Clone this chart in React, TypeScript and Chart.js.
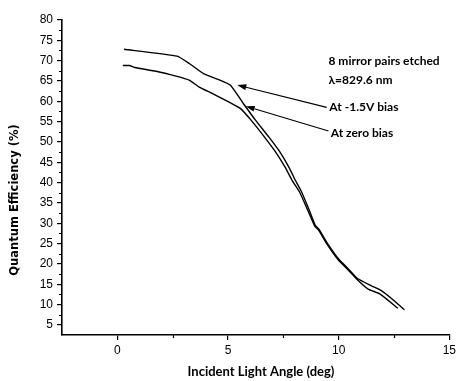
import React, { useEffect, useRef } from 'react';
import { Chart, registerables } from 'chart.js';

Chart.register(...registerables);

// ---- Data ----
const angleBias = [0.3, 2.7, 3.25, 3.9, 4.45, 5.1, 5.7, 6.25, 6.85, 7.3, 7.75, 8.05, 8.3, 8.65, 8.95, 9.1, 9.5, 10.0, 10.45, 10.85, 11.48, 11.93, 12.4, 12.97];
const qeBias = [72.8, 71.1, 69.3, 66.8, 65.6, 64.0, 59.4, 55.3, 51.2, 47.9, 43.8, 40.5, 38.0, 33.5, 29.4, 28.6, 25.0, 21.2, 18.7, 16.4, 14.6, 13.4, 11.4, 8.7];

const angleZero = [0.25, 0.55, 0.8, 1.75, 2.65, 3.25, 3.7, 4.3, 5.05, 5.57, 6.05, 6.65, 7.1, 7.58, 7.9, 8.25, 8.62, 8.93, 9.08, 9.48, 9.98, 10.43, 10.81, 11.33, 11.86, 12.67];
const qeZero = [68.8, 68.8, 68.3, 67.4, 66.2, 65.2, 63.5, 61.9, 59.8, 58.2, 55.3, 51.2, 47.9, 43.8, 40.5, 37.5, 33.0, 29.2, 28.4, 24.8, 21.0, 18.5, 16.3, 13.8, 12.6, 9.1];

const xTicks = [0, 5, 10, 15];
const xMinorTicks = [2.5, 7.5, 12.5];
const yTicks = [5, 10, 15, 20, 25, 30, 35, 40, 45, 50, 55, 60, 65, 70, 75, 80];
const yMinorTicks = [7.5, 12.5, 17.5, 22.5, 27.5, 32.5, 37.5, 42.5, 47.5, 52.5, 57.5, 62.5, 67.5, 72.5, 77.5];

const xTitle = 'Incident Light Angle (deg)';
const yTitle = 'Quantum Efficiency (%)';

// annotation texts: [text, x, y] in data units
const noteTexts: [string, number, number][] = [
  ['8 mirror pairs etched', 9.54, 69.9],
  ['\u03BB=829.6 nm', 9.54, 65.2],
  ['At -1.5V bias', 9.58, 58.5],
  ['At zero bias', 9.64, 52.2],
];
// arrows: [tailX, tailY, headX, headY] in data units
const noteArrows: [number, number, number, number][] = [
  [9.46, 58.5, 5.42, 64.0],
  [9.54, 52.7, 5.8, 58.8],
];

const toPoints = (xs: number[], ys: number[]) => xs.map((x, i) => ({ x, y: ys[i] }));

const extrasPlugin = {
  id: 'extras',
  afterDraw(chart: any) {
    const ctx = chart.ctx as CanvasRenderingContext2D;
    const xs = chart.scales.x;
    const ys = chart.scales.y;
    const area = chart.chartArea;
    ctx.save();
    ctx.strokeStyle = '#000';
    ctx.lineWidth = 1.2;
    // minor ticks
    ctx.beginPath();
    for (const v of yMinorTicks) {
      const py = Math.round(ys.getPixelForValue(v)) + 0.5;
      ctx.moveTo(area.left, py);
      ctx.lineTo(area.left - 3, py);
    }
    for (const v of xMinorTicks) {
      const px = Math.round(xs.getPixelForValue(v)) + 0.5;
      ctx.moveTo(px, area.bottom);
      ctx.lineTo(px, area.bottom + 3);
    }
    ctx.stroke();

    // axis titles
    ctx.fillStyle = '#000';
    ctx.font = 'bold 13px Lato';
    ctx.textAlign = 'center';
    ctx.textBaseline = 'middle';
    ctx.fillText(xTitle, 261, 372);
    ctx.save();
    ctx.translate(15, 200);
    ctx.rotate(-Math.PI / 2);
    ctx.font = 'bold 11.5px "DejaVu Sans"';
    ctx.fillText(yTitle, 0, 0);
    ctx.restore();

    // annotation texts
    ctx.font = 'bold 12px Lato';
    ctx.textAlign = 'left';
    ctx.textBaseline = 'middle';
    for (const [t, x, y] of noteTexts) {
      ctx.fillText(t, xs.getPixelForValue(x), ys.getPixelForValue(y));
    }

    // arrows
    ctx.lineWidth = 1.2;
    for (const [x0, y0, x1, y1] of noteArrows) {
      const ax = xs.getPixelForValue(x0);
      const ay = ys.getPixelForValue(y0);
      const bx = xs.getPixelForValue(x1);
      const by = ys.getPixelForValue(y1);
      const ang = Math.atan2(by - ay, bx - ax);
      const len = 9;
      const half = 3;
      const cx = bx - len * Math.cos(ang);
      const cy = by - len * Math.sin(ang);
      ctx.beginPath();
      ctx.moveTo(ax, ay);
      ctx.lineTo(cx, cy);
      ctx.stroke();
      ctx.beginPath();
      ctx.moveTo(bx, by);
      ctx.lineTo(cx + half * Math.sin(ang), cy - half * Math.cos(ang));
      ctx.lineTo(cx - half * Math.sin(ang), cy + half * Math.cos(ang));
      ctx.closePath();
      ctx.fill();
    }
    ctx.restore();
  },
};

export default function App() {
  const ref = useRef<HTMLCanvasElement | null>(null);
  useEffect(() => {
    if (!ref.current) return;
    const chart = new Chart(ref.current, {
      type: 'scatter',
      data: {
        datasets: [
          {
            label: 'At -1.5V bias',
            data: toPoints(angleBias, qeBias),
            showLine: true,
            borderColor: '#000',
            backgroundColor: '#000',
            borderWidth: 1.4,
            pointRadius: 0,
            tension: 0.15,
          },
          {
            label: 'At zero bias',
            data: toPoints(angleZero, qeZero),
            showLine: true,
            borderColor: '#000',
            backgroundColor: '#000',
            borderWidth: 1.4,
            pointRadius: 0,
            tension: 0.15,
          },
        ],
      },
      options: {
        animation: false,
        responsive: true,
        maintainAspectRatio: false,
        layout: { padding: { left: 0, right: 7, top: 20, bottom: 0 } },
        plugins: { legend: { display: false }, tooltip: { enabled: false } },
        scales: {
          x: {
            type: 'linear',
            min: -2.5,
            max: 15,
            afterBuildTicks: (s: any) => {
              s.ticks = xTicks.map((v) => ({ value: v }));
            },
            afterFit: (s: any) => {
              s.height = 46;
            },
            grid: { display: true, drawOnChartArea: false, drawTicks: true, tickLength: 5, color: '#000', lineWidth: 1.2 },
            border: { display: true, color: '#000', width: 1.6 },
            ticks: { color: '#000', font: { family: 'Liberation Sans', size: 12 }, padding: 3, maxRotation: 0 },
          },
          y: {
            type: 'linear',
            min: 2.5,
            max: 80,
            afterBuildTicks: (s: any) => {
              s.ticks = yTicks.map((v) => ({ value: v }));
            },
            afterFit: (s: any) => {
              s.width = 62;
            },
            grid: { display: true, drawOnChartArea: false, drawTicks: true, tickLength: 5, color: '#000', lineWidth: 1.2 },
            border: { display: true, color: '#000', width: 1.6 },
            ticks: { color: '#000', font: { family: 'Liberation Sans', size: 12 }, padding: 4 },
          },
        },
      },
      plugins: [extrasPlugin],
    });
    return () => chart.destroy();
  }, []);
  return (
    <div style={{ position: 'fixed', left: 0, top: 0, width: 459, height: 381, background: '#fff' }}>
      <canvas ref={ref} />
    </div>
  );
}
